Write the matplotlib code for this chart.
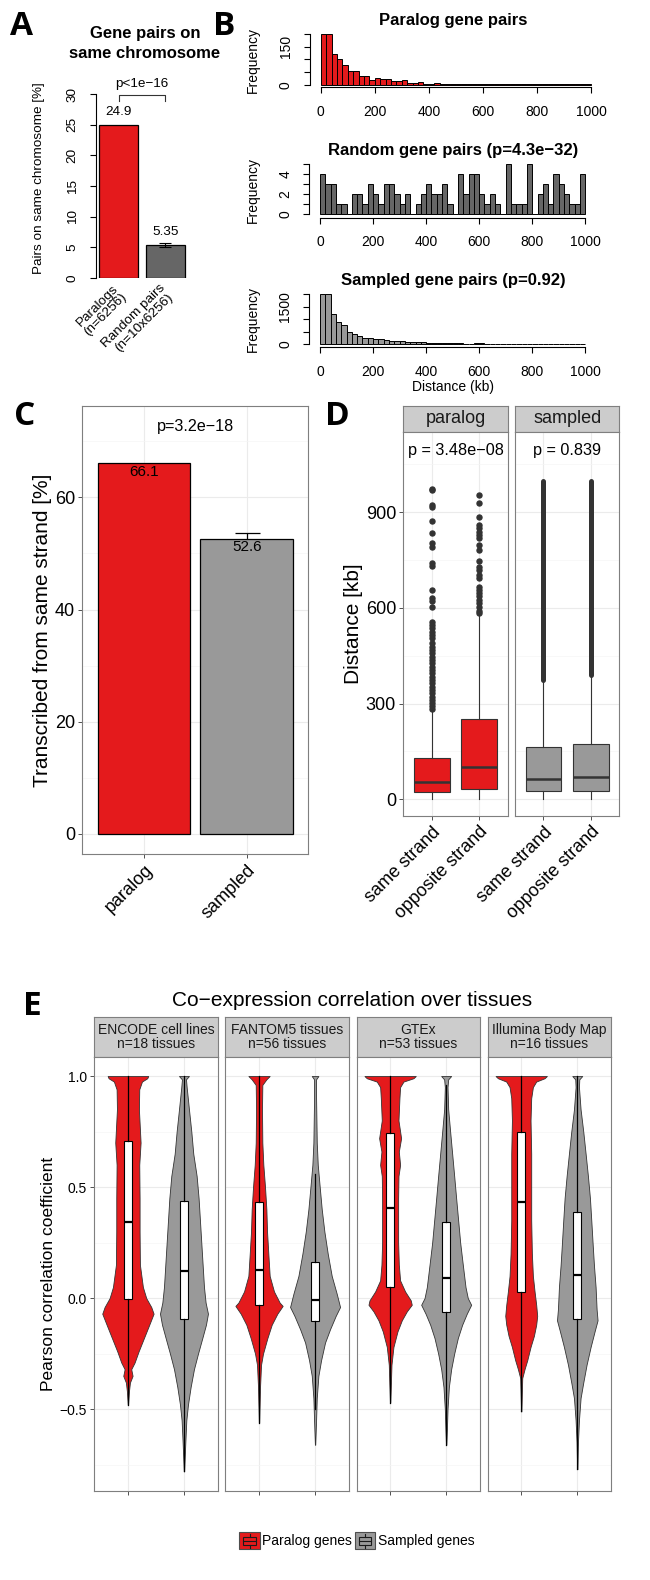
import matplotlib

matplotlib.use("Agg")
import matplotlib.pyplot as plt
import numpy as np
from matplotlib.legend_handler import HandlerBase
from matplotlib.lines import Line2D
from matplotlib.patches import Patch, Rectangle

# ---------------------------------------------------------------- data
# A: gene pairs on same chromosome
a_labels = ["Paralogs\n(n=6256)", "Random pairs\n(n=10x6256)"]
a_values = [24.9, 5.35]
a_err = 0.3
a_pvalue = "p<1e\u221216"

# B: distance histograms (20 kb bins, 0-1000 kb)
b_titles = ["Paralog gene pairs", "Random gene pairs (p=4.3e\u221232)",
            "Sampled gene pairs (p=0.92)"]
b_paralog = [198, 198, 121, 100, 80, 55, 55, 35, 35, 20, 28, 22, 22, 17, 17,
             18, 7, 7, 12, 5, 4, 6, 4, 3, 3, 4, 3, 3, 2, 4, 3, 2, 3, 4, 3, 2,
             3, 2, 2, 3, 2, 2, 3, 2, 2, 3, 2, 3, 2, 2]
b_random = [4, 3, 3, 1, 1, 0, 2, 2, 1, 3, 2, 1, 3, 3, 2, 1, 2, 0, 1, 2, 3, 2,
            2, 3, 1, 0, 4, 2, 4, 4, 2, 1, 2, 1, 0, 5, 1, 1, 1, 5, 0, 2, 3, 1,
            4, 3, 2, 1, 1, 4]
b_sampled = [2004, 2004, 1195, 903, 770, 504, 398, 345, 265, 239, 212, 212,
             172, 146, 146, 146, 80, 80, 80, 80, 50, 45, 40, 40, 50, 35, 35,
             30, 30, 40, 35, 30, 30, 30, 25, 25, 30, 25, 25, 25, 25, 25, 20,
             20, 25, 20, 20, 30, 20, 20]
b_yticks = [[0, 50, 100, 150, 200], [0, 1, 2, 3, 4, 5], [0, 500, 1000, 1500, 2000]]
b_ylabels = [[0, 150], [0, 2, 4], [0, 1500]]
b_xticks = [0, 200, 400, 600, 800, 1000]

# C: transcribed from same strand
c_groups = ["paralog", "sampled"]
c_values = [66.1, 52.6]
c_err = [0.0, 1.1]
c_pvalue = "p=3.2e\u221218"

# D: distance by strand
d_panels = ["paralog", "sampled"]
d_groups = ["same strand", "opposite strand"]
d_pvalues = ["p = 3.48e\u221208", "p = 0.839"]
d_q1 = [[24, 32], [26, 26]]
d_med = [[55, 100], [65, 69]]
d_q3 = [[128, 251], [165, 173]]
d_whislo = [[1, 1], [1, 1]]
d_whishi = [[280, 581], [369, 385]]
d_out_same = [973, 970, 923, 916, 874, 836, 803, 790, 740, 732, 656, 630, 622,
              604, 557, 547, 536, 526, 515, 505, 490, 479, 468, 458, 447, 437,
              426, 416, 406, 395, 385, 374, 364, 353, 343, 332, 322, 311, 301,
              291, 284]
d_out_opp = [954, 928, 886, 860, 850, 839, 829, 818, 798, 782, 748, 729, 719,
             703, 693, 667, 656, 646, 636, 625, 615, 604, 592, 584]
d_dense_lo = [375, 390]  # sampled: outliers so dense they form a column
d_dense_hi = [998, 998]

# E: co-expression correlation violins
e_sets = ["ENCODE cell lines\nn=18 tissues", "FANTOM5 tissues\nn=56 tissues",
          "GTEx\nn=53 tissues", "Illumina Body Map\nn=16 tissues"]
e_groups = ["Paralog genes", "Sampled genes"]

encode_par_y = [1.00, 0.99, 0.975, 0.94, 0.85, 0.70, 0.60, 0.45, 0.30, 0.15, 0.05,
                0.00, -0.04, -0.07, -0.12, -0.18, -0.24, -0.29, -0.32, -0.35,
                -0.38, -0.42, -0.48]
encode_par_w = [0.362, 0.345, 0.25, 0.202, 0.196, 0.226, 0.202, 0.208, 0.208,
                0.214, 0.267, 0.327, 0.416, 0.458, 0.38, 0.285, 0.19, 0.119,
                0.059, 0.083, 0.036, 0.018, 0.003]
encode_smp_y = [1.00, 0.985, 0.95, 0.85, 0.75, 0.65, 0.55, 0.45, 0.35, 0.25, 0.15,
                0.05, -0.02, -0.07, -0.12, -0.18, -0.25, -0.32, -0.40, -0.48,
                -0.55, -0.65, -0.78]
encode_smp_w = [0.089, 0.036, 0.048, 0.089, 0.131, 0.166, 0.226, 0.261, 0.285,
                0.309, 0.333, 0.357, 0.386, 0.428, 0.392, 0.327, 0.25, 0.178,
                0.119, 0.071, 0.042, 0.024, 0.003]
fantom_par_y = [1.00, 0.985, 0.96, 0.85, 0.70, 0.60, 0.50, 0.40, 0.30, 0.20, 0.10,
                0.03, -0.02, -0.035, -0.07, -0.12, -0.18, -0.25, -0.30, -0.40,
                -0.56]
fantom_par_w = [0.19, 0.131, 0.059, 0.053, 0.059, 0.077, 0.107, 0.131, 0.143,
                0.166, 0.19, 0.267, 0.368, 0.422, 0.327, 0.226, 0.149, 0.071,
                0.036, 0.018, 0.003]
fantom_smp_y = [1.00, 0.985, 0.90, 0.80, 0.70, 0.60, 0.50, 0.40, 0.30, 0.20, 0.10,
                0.02, -0.04, -0.08, -0.14, -0.20, -0.28, -0.35, -0.45, -0.55,
                -0.66]
fantom_smp_w = [0.059, 0.018, 0.018, 0.024, 0.03, 0.048, 0.083, 0.119, 0.166,
                0.226, 0.297, 0.386, 0.446, 0.368, 0.267, 0.178, 0.107, 0.059,
                0.03, 0.018, 0.003]
gtex_par_y = [1.00, 0.99, 0.975, 0.95, 0.90, 0.80, 0.72, 0.66, 0.60, 0.55, 0.45,
              0.35, 0.25, 0.15, 0.08, 0.03, -0.01, -0.03, -0.06, -0.10, -0.15,
              -0.22, -0.30, -0.40, -0.47]
gtex_par_w = [0.458, 0.416, 0.238, 0.178, 0.166, 0.149, 0.196, 0.155, 0.178,
              0.149, 0.143, 0.143, 0.143, 0.155, 0.178, 0.267, 0.368, 0.386,
              0.297, 0.208, 0.131, 0.059, 0.024, 0.012, 0.003]
gtex_smp_y = [1.00, 0.985, 0.95, 0.85, 0.75, 0.65, 0.55, 0.45, 0.35, 0.25, 0.15,
              0.05, 0.00, -0.03, -0.07, -0.12, -0.18, -0.25, -0.32, -0.40, -0.50,
              -0.60, -0.66]
gtex_smp_w = [0.089, 0.036, 0.024, 0.036, 0.071, 0.107, 0.143, 0.178, 0.214,
              0.25, 0.297, 0.345, 0.386, 0.446, 0.368, 0.285, 0.208, 0.143,
              0.089, 0.048, 0.024, 0.012, 0.003]
illum_par_y = [1.00, 0.99, 0.975, 0.95, 0.90, 0.80, 0.65, 0.50, 0.35, 0.20, 0.10,
               0.03, -0.03, -0.08, -0.12, -0.17, -0.22, -0.28, -0.32, -0.36,
               -0.45, -0.51]
illum_par_w = [0.458, 0.416, 0.267, 0.208, 0.178, 0.166, 0.178, 0.178, 0.178,
               0.19, 0.208, 0.238, 0.267, 0.285, 0.267, 0.226, 0.166, 0.107,
               0.059, 0.018, 0.009, 0.003]
illum_smp_y = [1.00, 0.985, 0.95, 0.85, 0.75, 0.65, 0.55, 0.45, 0.35, 0.25, 0.15,
               0.05, -0.05, -0.10, -0.15, -0.22, -0.30, -0.38, -0.45, -0.55,
               -0.65, -0.77]
illum_smp_w = [0.089, 0.036, 0.03, 0.059, 0.107, 0.149, 0.19, 0.226, 0.25, 0.273,
               0.297, 0.327, 0.345, 0.362, 0.309, 0.238, 0.166, 0.107, 0.059,
               0.03, 0.012, 0.003]

e_q1 = [[-0.003, -0.095], [-0.032, -0.105], [0.052, -0.063], [0.027, -0.096]]
e_med = [[0.345, 0.123], [0.128, -0.008], [0.408, 0.092], [0.434, 0.104]]
e_q3 = [[0.709, 0.438], [0.431, 0.162], [0.745, 0.345], [0.749, 0.387]]
e_whislo = [[-0.48, -0.78], [-0.56, -0.50], [-0.47, -0.66], [-0.51, -0.77]]
e_whishi = [[1.0, 1.0], [1.0, 0.56], [1.0, 0.96], [1.0, 1.0]]

# ---------------------------------------------------------------- style
RED = "#E41A1C"
GREY = "#999999"
DARKGREY = "#666666"
INK = "#333333"
BORDER = "#7F7F7F"
W, H = 650, 1580

plt.rcParams["font.family"] = ["Liberation Sans", "DejaVu Sans"]
plt.rcParams["axes.linewidth"] = 0.8

fig = plt.figure(figsize=(W / 100, H / 100), dpi=100)


def px_axes(x0, y0, x1, y1):
    return fig.add_axes([x0 / W, 1 - y1 / H, (x1 - x0) / W, (y1 - y0) / H])


def ftext(x, y, s, **kw):
    return fig.text(x / W, 1 - y / H, s, **kw)


def letter(x, y, s):
    ftext(x, y, s, family=["Open Sans", "DejaVu Sans"], weight="bold",
          size=24, ha="left", va="baseline")


def r_axes(ax, yticks, ylabels, xticks=None, fs=10):
    for side in ("top", "right", "bottom"):
        ax.spines[side].set_visible(False)
    ax.spines["left"].set_bounds(yticks[0], yticks[-1])
    ax.set_yticks(yticks)
    ax.set_yticklabels([str(t) if t in ylabels else "" for t in yticks])
    ax.tick_params(axis="y", length=4.3, width=0.8, pad=8, labelsize=fs,
                   labelrotation=90)
    for lab in ax.get_yticklabels():
        lab.set_va("center")
    if xticks is None:
        ax.set_xticks([])
    else:
        ax.spines["bottom"].set_visible(True)
        ax.spines["bottom"].set_bounds(xticks[0], xticks[-1])
        ax.set_xticks(xticks)
        ax.tick_params(axis="x", length=4.3, width=0.8, pad=8.5, labelsize=fs)


def gg_axes(ax, yticks, yminor, show_y=True):
    ax.set_facecolor("white")
    for sp in ax.spines.values():
        sp.set_color(BORDER)
        sp.set_linewidth(0.8)
    ax.set_yticks(yticks)
    ax.set_yticks(yminor, minor=True)
    ax.grid(True, which="major", color="#EBEBEB", lw=0.8)
    ax.grid(True, which="minor", axis="y", color="#F5F5F5", lw=0.5)
    ax.set_axisbelow(True)
    ax.tick_params(which="minor", length=0)
    ax.tick_params(which="major", length=2.75, width=0.6, color=INK, pad=2.5)
    if not show_y:
        ax.tick_params(axis="y", left=False, labelleft=False)


def strip(x0, y0, x1, y1, text, fs):
    sax = px_axes(x0, y0, x1, y1)
    sax.set_facecolor("#CCCCCC")
    for sp in sax.spines.values():
        sp.set_color(BORDER)
        sp.set_linewidth(0.8)
    sax.set_xticks([])
    sax.set_yticks([])
    sax.text(0.5, 0.5, text, transform=sax.transAxes, ha="center",
             va="center", size=fs, color="#1A1A1A", linespacing=1.05)


# ---------------------------------------------------------------- panel A
axA = px_axes(95.6, 87.9, 188.2, 278)
a_pos = 0.7 + 1.2 * np.arange(len(a_values))
axA.bar(a_pos, a_values, width=1.0, color=[RED, DARKGREY], edgecolor="black",
        linewidth=0.9)
axA.errorbar(a_pos[1], a_values[1], yerr=a_err, fmt="none", ecolor="black",
             elinewidth=0.8, capsize=4, capthick=0.8)
axA.set_xlim(0.112, 2.488)
axA.set_ylim(0, 31)
r_axes(axA, [0, 5, 10, 15, 20, 25, 30], [0, 5, 10, 15, 20, 25, 30], fs=9.7)
for xp, v in zip(a_pos, a_values):
    axA.text(xp, v + 2.2, f"{v}", ha="center", va="center", size=9.7)
    axA.text(xp + 0.05, -2.1, a_labels[list(a_pos).index(xp)], rotation=45,
             ha="right", va="center", rotation_mode="anchor", size=9.7,
             linespacing=1.0)
axA.plot([a_pos[0], a_pos[0], a_pos[1], a_pos[1]], [28.8, 29.8, 29.8, 28.8],
         color="#333333", lw=0.8, clip_on=False)
axA.text(a_pos.mean(), 31.6, a_pvalue, ha="center", va="center", size=9.7)
ftext(39, 178, "Pairs on same chromosome [%]", rotation=90, ha="center",
      va="center", size=9.7)
ftext(145, 33.5, "Gene pairs on", weight="bold", size=12, ha="center",
      va="center")
ftext(145, 54, "same chromosome", weight="bold", size=12, ha="center",
      va="center")
letter(10, 35, "A")

# ---------------------------------------------------------------- panel B
b_edges = np.arange(0, 1000, 20)
b_rects = [(309.9, 32.4, 601.8, 87.3), (309.4, 161.8, 595.9, 217.7),
           (309.4, 291.9, 595.9, 347.0)]
b_ylims = [(-9, 206), (-0.34, 5.2), (-107, 2083)]
b_title_y = [20.5, 150.5, 280.5]
for i, (counts, color) in enumerate(zip([b_paralog, b_random, b_sampled],
                                        [RED, DARKGREY, GREY])):
    ax = px_axes(*b_rects[i])
    ax.bar(b_edges, counts, width=20, align="edge", color=color,
           edgecolor="black", linewidth=0.7)
    ax.set_xlim(-40, 1040)
    ax.set_ylim(*b_ylims[i])
    r_axes(ax, b_yticks[i], b_ylabels[i], xticks=b_xticks, fs=10)
    r = b_rects[i]
    ftext(252.7, (r[1] + r[3]) / 2, "Frequency", rotation=90, ha="center",
          va="center", size=10)
    ftext(453, b_title_y[i], b_titles[i], weight="bold", size=12,
          ha="center", va="center")
ftext(453, 387, "Distance (kb)", ha="center", va="center", size=10)
letter(213, 35, "B")

# ---------------------------------------------------------------- panel C
axC = px_axes(82.3, 405.7, 308.3, 854)
gg_axes(axC, [0, 20, 40, 60], [10, 30, 50, 70])
c_pos = np.arange(1, len(c_values) + 1)
axC.errorbar(c_pos[1], c_values[1], yerr=c_err[1], fmt="none", ecolor="black",
             elinewidth=0.9, capsize=9, capthick=0.9, zorder=2)
axC.bar(c_pos, c_values, width=0.9, color=[RED, GREY], edgecolor="black",
        linewidth=0.9, zorder=3)
for xp, v in zip(c_pos, c_values):
    axC.text(xp, v - 1.5, f"{v}", ha="center", va="center", size=11, zorder=4)
axC.text(c_pos.mean(), 72.6, c_pvalue, ha="center", va="center", size=11.6)
axC.set_xlim(0.4, 2.6)
axC.set_ylim(-3.565, 76.34)
axC.set_xticks(c_pos)
axC.set_xticklabels(c_groups, rotation=45, ha="right", rotation_mode="anchor")
axC.tick_params(labelsize=13, labelcolor="black")
ftext(43, 630, "Transcribed from same strand [%]", rotation=90, ha="center",
      va="center", size=15)
letter(14, 425, "C")

# ---------------------------------------------------------------- panel D
d_x = [(403.3, 507.7), (515, 619.3)]
d_colors = [RED, GREY]
for p in range(2):
    strip(d_x[p][0], 405.7, d_x[p][1], 431.7, d_panels[p], 13)
    ax = px_axes(d_x[p][0], 431.7, d_x[p][1], 816)
    gg_axes(ax, [0, 300, 600, 900], [150, 450, 750, 1050], show_y=(p == 0))
    fliers = [d_out_same, d_out_opp] if p == 0 else [[], []]
    stats = [dict(q1=d_q1[p][g], med=d_med[p][g], q3=d_q3[p][g],
                  whislo=d_whislo[p][g], whishi=d_whishi[p][g],
                  fliers=fliers[g]) for g in range(2)]
    ax.bxp(stats, positions=[1, 2], widths=0.75, patch_artist=True,
           showcaps=False, manage_ticks=False, zorder=3,
           boxprops=dict(facecolor=d_colors[p], edgecolor=INK, lw=0.8),
           whiskerprops=dict(color=INK, lw=0.8),
           medianprops=dict(color=INK, lw=1.8),
           flierprops=dict(marker="o", markersize=3.6, markerfacecolor=INK,
                           markeredgecolor=INK, linestyle="none"))
    if p == 1:
        ax.vlines([1, 2], d_dense_lo, d_dense_hi, color=INK, lw=3.6,
                  zorder=3, capstyle="round")
    ax.text(1.5, 1095, d_pvalues[p], ha="center", va="center", size=11.7)
    ax.set_xlim(0.4, 2.6)
    ax.set_ylim(-52.4, 1152.7)
    ax.set_xticks([1, 2])
    ax.set_xticklabels(d_groups, rotation=45, ha="right",
                       rotation_mode="anchor")
    ax.tick_params(labelsize=13, labelcolor="black")
ftext(353, 624, "Distance [kb]", rotation=90, ha="center", va="center",
      size=15)
letter(325, 425, "D")

# ---------------------------------------------------------------- panel E
e_profiles = [
    [(encode_par_y, encode_par_w), (encode_smp_y, encode_smp_w)],
    [(fantom_par_y, fantom_par_w), (fantom_smp_y, fantom_smp_w)],
    [(gtex_par_y, gtex_par_w), (gtex_smp_y, gtex_smp_w)],
    [(illum_par_y, illum_par_w), (illum_smp_y, illum_smp_w)],
]
e_colors = [RED, GREY]
for s in range(4):
    x0 = 94.3 + s * 131.1
    x1 = x0 + 123.3
    strip(x0, 1017.3, x1, 1056.7, e_sets[s], 10)
    ax = px_axes(x0, 1056.7, x1, 1490.7)
    gg_axes(ax, [-0.5, 0.0, 0.5, 1.0], [-0.75, -0.25, 0.25, 0.75],
            show_y=(s == 0))
    for g in range(2):
        yv = np.array(e_profiles[s][g][0])
        wv = np.array(e_profiles[s][g][1])
        ax.fill_betweenx(yv, g + 1 - wv, g + 1 + wv, facecolor=e_colors[g],
                         edgecolor=INK, lw=0.6, zorder=2)
    stats = [dict(q1=e_q1[s][g], med=e_med[s][g], q3=e_q3[s][g],
                  whislo=e_whislo[s][g], whishi=e_whishi[s][g], fliers=[])
             for g in range(2)]
    ax.bxp(stats, positions=[1, 2], widths=0.15, patch_artist=True,
           showcaps=False, showfliers=False, manage_ticks=False, zorder=3,
           boxprops=dict(facecolor="white", edgecolor="black", lw=0.8),
           whiskerprops=dict(color="black", lw=0.9),
           medianprops=dict(color="black", lw=1.6))
    ax.set_xlim(0.4, 2.6)
    ax.set_ylim(-0.867, 1.087)
    ax.set_xticks([1, 2])
    ax.set_xticklabels(["", ""])
    ax.tick_params(labelsize=10, labelcolor="black")
ftext(352.5, 1006, "Co\u2212expression correlation over tissues",
      ha="center", va="baseline", size=15)
ftext(48.3, 1273.7, "Pearson correlation coefficient", rotation=90,
      ha="center", va="center", size=12.5)
letter(23, 1015, "E")


class BoxKey(HandlerBase):
    def create_artists(self, legend, orig, xd, yd, width, height, fontsize,
                       trans):
        x0, y0 = -xd, -yd
        fc = orig.get_facecolor()
        cx = x0 + 0.5 * width
        line = dict(color="#1A1A1A", lw=0.8, transform=trans)
        return [
            Rectangle((x0, y0), width, height, facecolor=fc,
                      edgecolor="#4D4D4D", lw=0.8, transform=trans),
            Rectangle((x0 + 0.2 * width, y0 + 0.25 * height), 0.6 * width,
                      0.5 * height, facecolor=fc, edgecolor="#1A1A1A",
                      lw=0.8, transform=trans),
            Line2D([x0 + 0.2 * width, x0 + 0.8 * width],
                   [y0 + 0.5 * height] * 2, **line),
            Line2D([cx, cx], [y0 + 0.08 * height, y0 + 0.25 * height], **line),
            Line2D([cx, cx], [y0 + 0.75 * height, y0 + 0.92 * height], **line),
        ]


handles = [Patch(facecolor=c) for c in e_colors]
fig.legend(handles, e_groups, loc="center", ncol=2, frameon=False,
           bbox_to_anchor=(357 / W, 1 - 1540.7 / H), fontsize=10,
           handlelength=1.45, handleheight=1.45, handletextpad=0.2,
           columnspacing=0.2, handler_map={Patch: BoxKey()})

fig.savefig("out.png", dpi=100, facecolor="white")
